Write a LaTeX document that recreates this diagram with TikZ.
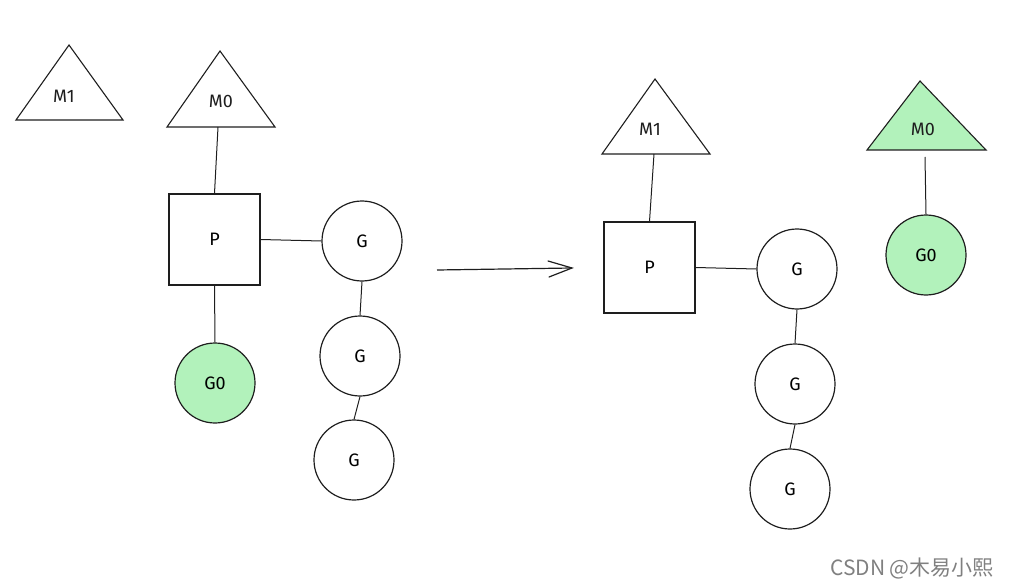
\documentclass[tikz,border=0pt]{standalone}
\usepackage{fontspec}
\setmainfont{Fira Sans}
\newfontfamily\cjkfont{Noto Sans CJK SC}
\definecolor{gfill}{HTML}{B2F2BB}
\definecolor{ink}{HTML}{1E1E1E}
\begin{document}
\begin{tikzpicture}[x=1pt,y=-1pt,
  ln/.style={draw=ink,line width=1pt},
  gcirc/.style={circle,draw=ink,line width=1.2pt,minimum size=80pt,inner sep=0pt,font=\fontsize{18}{20}\selectfont},
  pbox/.style={rectangle,draw=ink,line width=1.1pt,minimum size=91pt,inner sep=0pt,font=\fontsize{18}{20}\selectfont},
  lbl/.style={font=\fontsize{18}{20}\selectfont,text=ink},
  tri/.style={draw=ink,line width=1.1pt,line join=miter}]
\useasboundingbox (0,0) rectangle (1009,588);
% ---------- left ----------
\draw[tri] (69,45) -- (123,120) -- (16,120) -- cycle;
\node[lbl] (m1a) at (64,96) {M1};
\draw[tri] (220,51) -- (275,127) -- (167,127) -- cycle;
\node[lbl] (m0a) at (221,101) {M0};
\coordinate (m0abase) at (218,127);
\node[pbox] (pa) at (214.5,239.5) {P};
\node[gcirc] (ga1) at (362,241) {G};
\node[gcirc] (ga2) at (360,356) {G};
\node[gcirc] (ga3) at (354,460) {G};
\node[gcirc,fill=gfill] (g0a) at (215,383) {G0};
\draw[ln] (m0abase) -- (pa.north);
\draw[ln] (pa.east) -- (ga1.west);
\draw[ln] (ga1.south) -- (ga2.north);
\draw[ln] (ga2.south) -- (ga3.north);
\draw[ln] (pa.south) -- (g0a.north);
% ---------- arrow ----------
\coordinate (arrs) at (437,270);
\coordinate (arre) at (572,268);
\draw[ln,line width=1.2pt] (arrs) -- (arre);
\draw[ln,line width=1.2pt,line cap=round] (548,261) -- (arre) -- (549,277);
% ---------- right ----------
\draw[tri] (655,79) -- (710,154) -- (602,154) -- cycle;
\node[lbl] (m1b) at (650,129) {M1};
\coordinate (m1bbase) at (654,154);
\node[pbox] (pb) at (649.5,267.5) {P};
\node[gcirc] (gb1) at (797,269) {G};
\node[gcirc] (gb2) at (795,384) {G};
\node[gcirc] (gb3) at (790,489) {G};
\draw[ln] (m1bbase) -- (pb.north);
\draw[ln] (pb.east) -- (gb1.west);
\draw[ln] (gb1.south) -- (gb2.north);
\draw[ln] (gb2.south) -- (gb3.north);
\draw[tri,fill=gfill] (920,81) -- (986,150) -- (867,150) -- cycle;
\node[lbl] (m0b) at (923,129) {M0};
\coordinate (m0bbase) at (925,157);
\node[gcirc,fill=gfill] (g0b) at (926,255) {G0};
\draw[ln] (m0bbase) -- (g0b.north);
% ---------- watermark ----------
\node[anchor=center,text=black!50,font=\cjkfont\fontsize{21}{23}\selectfont] (wm) at (912,569) {CSDN @木易小熙};
\end{tikzpicture}
\end{document}
